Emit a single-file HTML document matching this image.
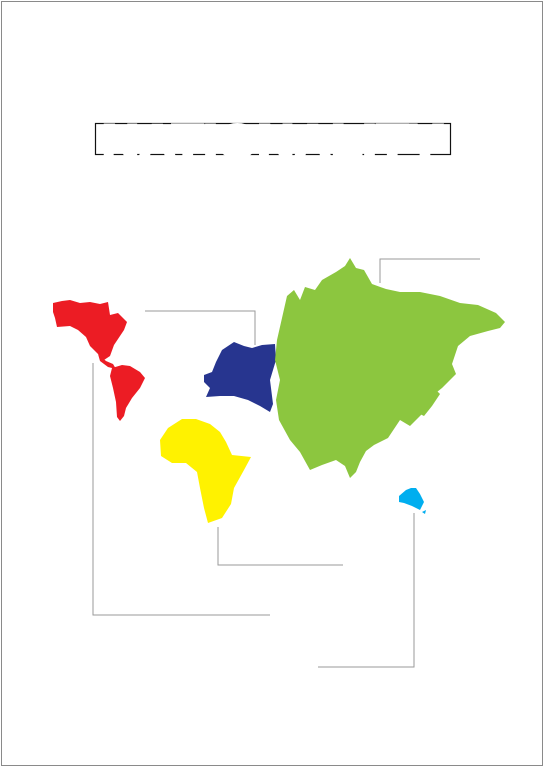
<!DOCTYPE html>
<html><head><meta charset="utf-8"><style>
html,body{margin:0;padding:0;background:#fff}
#root{position:relative;width:544px;height:767px;overflow:hidden;font-family:"Liberation Sans",sans-serif}
</style></head><body>
<div id="root">
<svg width="544" height="767" viewBox="0 0 544 767">
<rect x="1.5" y="1.5" width="541" height="764" fill="none" stroke="#8a8a8a" stroke-width="1"/>
<rect x="95.5" y="123.5" width="355" height="31" fill="none" stroke="#111" stroke-width="1.2"/>
<text x="272" y="157" text-anchor="middle" font-size="46" font-weight="bold" textLength="340" lengthAdjust="spacingAndGlyphs" fill="#fff" stroke="#fff" stroke-width="3" font-family="Liberation Sans, sans-serif">NATIONALITY</text>

<g fill="none" stroke="#9a9a9a" stroke-width="1">
<polyline points="380,283 380,259 480,259"/>
<polyline points="255,345 255,311 145,311"/>
<polyline points="93,363 93,615 270,615"/>
<polyline points="218,527 218,565 343,565"/>
<polyline points="414,513 414,667 318,667"/>
</g>

<g fill="#ec1c24">
<polygon points="53,303 62,301 70,300 80,303 90,302 100,304 108,302 110,315 118,313 127,322 124,330 120,336 114,345 110,356 104,360 98,354 90,346 86,337 78,330 70,326 57,327 55,318 53,312"/>
<polygon points="98,354 106,361 113,364 116,369 108,367 100,361"/>
<polygon points="112,368 122,365 130,366 140,372 145,378 140,388 132,398 126,408 124,416 120,421 117,417 116,402 113,388 110,376"/>
</g>
<polygon fill="#27358f" points="204,375 212,372 216,362 222,350 234,342 244,346 252,348 262,345 275,344 276,360 270,380 273,404 270,412 260,406 248,400 234,396 220,396 206,397 210,388 204,382"/>
<g fill="#8cc63f">
<polygon points="277,340 287,296 294,290 300,300 305,287 315,290 322,280 336,272 345,266 350,258 356,268 364,270 372,284 386,289 400,292 420,292 440,296 460,303 478,305 496,313 505,322 500,328 488,331 470,336 458,346 452,364 456,374 442,388 432,396 422,414 410,426 400,420 388,438 374,445 366,451 360,462 356,472 350,478 345,466 336,460 322,465 310,470 300,452 290,440 279,420 276,400 280,380 275,360"/>
<polygon points="428,396 436,390 440,394 432,406 424,416 420,414"/>
</g>
<polygon fill="#fff200" points="160,440 168,428 182,419 196,419 210,424 220,432 226,442 232,455 251,457 244,470 234,488 231,504 222,518 208,523 204,508 200,488 197,472 186,463 172,463 161,456"/>
<g fill="#00aeef">
<polygon points="399,496 406,490 411,488 416,488 420,494 424,502 420,510 412,506 404,503 399,502"/>
<polygon points="422,512 426,510 425,514"/>
</g>
</svg>
</div>
</body></html>
